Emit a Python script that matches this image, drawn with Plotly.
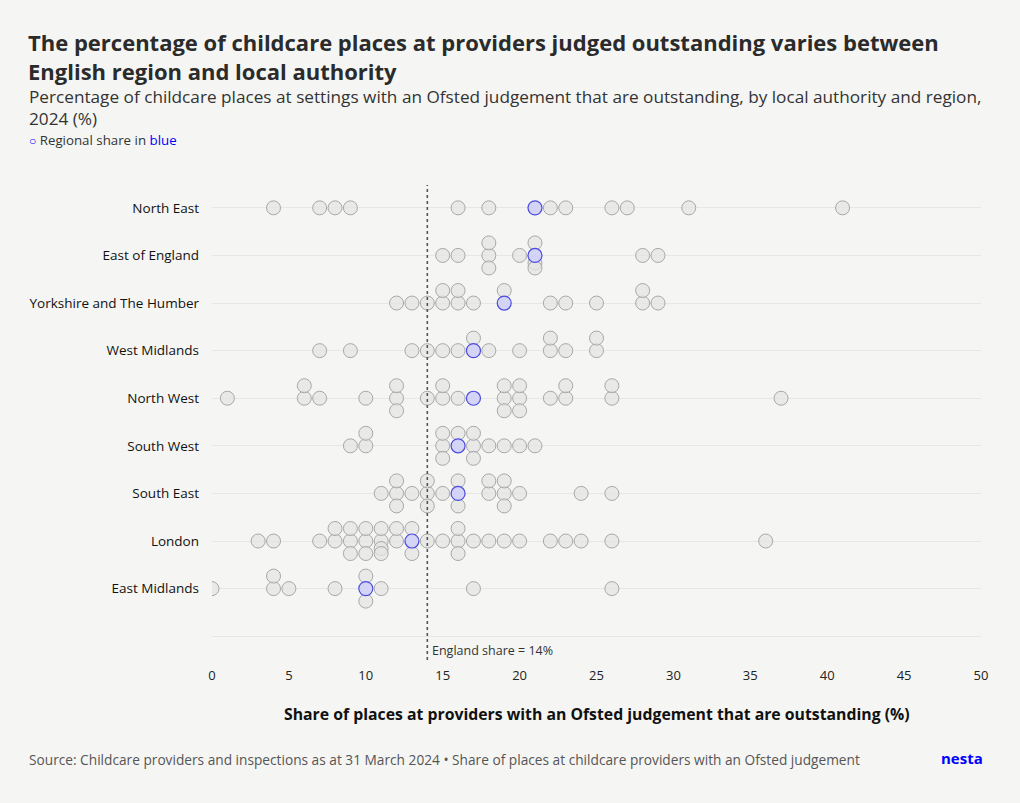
import plotly.graph_objects as go

regions = ["North East", "East of England", "Yorkshire and The Humber", "West Midlands",
           "North West", "South West", "South East", "London", "East Midlands"]
region_share = [21, 21, 19, 17, 17, 16, 16, 13, 10]
england_share = 14

ne_la = [4, 7, 8, 9, 16, 18, 22, 23, 26, 27, 31, 41]
eoe_la = [15, 16, 18, 18, 18, 20, 21, 21, 21, 28, 29]
yh_la = [12, 13, 14, 15, 15, 16, 16, 17, 19, 22, 23, 25, 28, 28, 29]
wm_la = [7, 9, 13, 14, 15, 16, 17, 18, 20, 22, 22, 23, 25, 25]
nw_la = [1, 6, 6, 7, 10, 12, 12, 12, 14, 15, 15, 16, 19, 19, 19, 20, 20, 20, 22, 23, 23, 26, 26, 37]
sw_la = [9, 10, 10, 15, 15, 15, 16, 17, 17, 17, 18, 19, 20, 21]
se_la = [11, 12, 12, 12, 13, 14, 14, 14, 15, 16, 16, 18, 18, 19, 19, 19, 20, 24, 26]
ldn_la = [3, 4, 7, 8, 8, 9, 9, 9, 10, 10, 10, 11, 11, 11, 11, 12, 12, 13, 13, 14, 15, 16, 16, 16,
          17, 18, 19, 20, 22, 23, 24, 26, 36]
em_la = [0, 4, 4, 5, 8, 10, 10, 11, 17, 26]
la_values = [ne_la, eoe_la, yh_la, wm_la, nw_la, sw_la, se_la, ldn_la, em_la]

x_ticks = [0, 5, 10, 15, 20, 25, 30, 35, 40, 45, 50]

# stacking of coincident dots (beeswarm-like)
PATTERNS = {1: [0], 2: [0, -1], 3: [0, -1, 1], 4: [0, -1, 0.6, 1]}
UNIT = 0.263

gx, gy, bx, by = [], [], [], []
for i, (vals, rs) in enumerate(zip(la_values, region_share)):
    for v in sorted(set(vals) | {rs}):
        n_la = vals.count(v)
        has_blue = (v == rs)
        n = n_la + (1 if has_blue else 0)
        pat = PATTERNS.get(n, [((k + 1) // 2) * (-1 if k % 2 else 1) for k in range(n)])
        k = 0
        if has_blue:
            bx.append(v); by.append(i + pat[0] * UNIT)
            k = 1
        for _ in range(n_la):
            gx.append(v); gy.append(i + pat[k] * UNIT)
            k += 1

FONT = "Open Sans"
BG = "#f5f6f3"

fig = go.Figure()
fig.add_trace(go.Scatter(
    x=gx, y=gy, mode="markers",
    marker=dict(size=14, color="rgba(228,228,228,0.75)", line=dict(color="#a8a8a8", width=1)),
    hoverinfo="x", showlegend=False))
fig.add_trace(go.Scatter(
    x=bx, y=by, mode="markers",
    marker=dict(size=14, color="rgba(208,210,246,0.9)", line=dict(color="#4a4adf", width=1.2)),
    hoverinfo="x", showlegend=False))

fig.add_shape(type="line", x0=england_share, x1=england_share, y0=0, y1=1, xref="x", yref="paper",
              line=dict(color="#555555", width=1.6, dash="dot"))
fig.add_annotation(x=england_share, y=9.3, xref="x", yref="y", text="England share = 14%",
                   showarrow=False, xanchor="left", xshift=3, font=dict(size=12.5, color="#333", family=FONT))

W, H = 1020, 803
L, R, T, B = 212, 39, 185, 143
pw, ph = W - L - R, H - T - B

def px(p):
    return (p - L) / pw

def py(p):
    return (H - B - p) / ph

anns = [
    dict(x=px(26), y=py(25), text="<b>The percentage of childcare places at providers judged outstanding varies between<br>English region and local authority</b>",
         font=dict(size=22, color="#2b2b2b", family=FONT), align="left", yanchor="top"),
    dict(x=px(27), y=py(83), text="Percentage of childcare places at settings with an Ofsted judgement that are outstanding, by local authority and region,<br>2024 (%)",
         font=dict(size=17.2, color="#333333", family=FONT), align="left", yanchor="top"),
    dict(x=px(27), y=py(129), text="<span style='color:#0000ff;font-size:12px'>○</span> Regional share in <span style='color:#0000ff'>blue</span>",
         font=dict(size=13.3, color="#333333", family=FONT), align="left", yanchor="top"),
    dict(x=0.5, y=py(701), text="<b>Share of places at providers with an Ofsted judgement that are outstanding (%)</b>",
         font=dict(size=15.8, color="#111111", family=FONT), xanchor="center", yanchor="top"),
    dict(x=px(27), y=py(748), text="Source: Childcare providers and inspections as at 31 March 2024 • Share of places at childcare providers with an Ofsted judgement",
         font=dict(size=13.7, color="#555555", family=FONT), yanchor="top"),
    dict(x=px(985), y=py(746), text="<b>nesta</b>", xanchor="right",
         font=dict(size=15, color="#0000ff", family=FONT), yanchor="top"),
]
for a in anns:
    a.setdefault("xanchor", "left")
    fig.add_annotation(xref="paper", yref="paper", showarrow=False, **a)

fig.update_layout(
    width=W, height=H, paper_bgcolor=BG, plot_bgcolor=BG,
    margin=dict(l=L, r=R, t=T, b=B, autoexpand=False),
    font=dict(family=FONT, color="#222222"),
    xaxis=dict(range=[0, 50], tickvals=x_ticks, showgrid=False, zeroline=False, showline=False,
               tickfont=dict(size=13, color="#222"), ticks="", ticklabelstandoff=6),
    yaxis=dict(range=[9.5, -0.48], tickvals=list(range(10)), ticktext=regions + [""],
               showgrid=True, gridcolor="#e7e8e5", gridwidth=1, zeroline=False, showline=False,
               tickfont=dict(size=13.5, color="#111"), ticks="", ticklabelstandoff=12),
    hovermode="closest",
)

fig.write_html("out.html", config={"displayModeBar": False},
               post_script="document.body.style.margin='0';document.body.style.background='%s';" % BG)
